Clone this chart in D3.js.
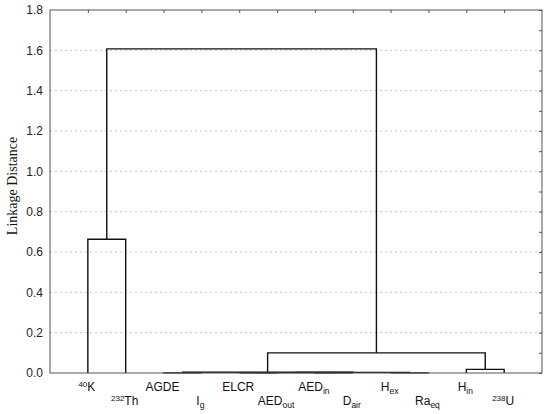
<!DOCTYPE html>
<html><head><meta charset="utf-8">
<script src="https://cdn.jsdelivr.net/npm/d3@7/dist/d3.min.js"></script>
<style>body{margin:0;background:#fff}svg{display:block}</style>
</head><body><svg id="c" width="550" height="414"></svg>
<script>
// Leaf labels (base text, superscript prefix, subscript suffix)
const leafBase = ["K","Th","AGDE","I","ELCR","AED","AED","D","H","Ra","H","U"];
const leafSup  = ["40","232","","","","","","","","","","238"];
const leafSub  = ["","","","g","","out","in","air","ex","eq","in",""];
// Linkage merges: left node, right node, linkage distance (nodes 0-11 are leaves)
const mergeLeft   = [2, 8, 4, 6, 14, 16, 12, 10, 0, 18, 20];
const mergeRight  = [3, 9, 5, 7, 15, 13, 17, 11, 1, 19, 21];
const mergeHeight = [0.0005, 0.0008, 0.001, 0.0012, 0.0018, 0.003, 0.004, 0.018, 0.663, 0.1, 1.607];
const yTicks = [0, 0.2, 0.4, 0.6, 0.8, 1.0, 1.2, 1.4, 1.6, 1.8];
const yMinorTicks = d3.range(0, 19).map(i => i / 10);

const svg = d3.select("#c");
const L = 50, R = 542, T = 10, B = 373;
const n = leafBase.length;
const x = d3.scaleLinear().domain([0, n + 1]).range([L, R]);
const y = d3.scaleLinear().domain([0, 1.8]).range([B, T]);

// grid
svg.append("g").selectAll("line").data(yTicks.filter(v => v > 0 && v < 1.8)).join("line")
  .attr("x1", L).attr("x2", R).attr("y1", d => y(d)).attr("y2", d => y(d))
  .attr("stroke", "#c4c4c4").attr("stroke-width", 1).attr("stroke-dasharray", "2,3");

// node positions
const pos = [], ht = [];
for (let i = 0; i < n; i++) { pos.push(i + 1); ht.push(0); }
const segs = [];
for (let k = 0; k < mergeLeft.length; k++) {
  const a = mergeLeft[k], b = mergeRight[k], h = mergeHeight[k];
  segs.push({xa: pos[a], ha: ht[a], xb: pos[b], hb: ht[b], h});
  pos.push((pos[a] + pos[b]) / 2); ht.push(h);
}
svg.append("g").selectAll("path").data(segs).join("path")
  .attr("d", s => `M${x(s.xa)},${y(s.ha)}V${y(s.h)}H${x(s.xb)}V${y(s.hb)}`)
  .attr("fill", "none").attr("stroke", "#111").attr("stroke-width", 1.4);

// frame
svg.append("rect").attr("x", L).attr("y", T).attr("width", R - L).attr("height", B - T)
  .attr("fill", "none").attr("stroke", "#555").attr("stroke-width", 1);

// left axis labels
const ax = svg.append("g").attr("transform", `translate(${L},0)`)
  .call(d3.axisLeft(y).tickValues(yTicks).tickFormat(d3.format(".1f")).tickSize(0).tickPadding(7));
ax.select(".domain").remove();
ax.selectAll("text").attr("font-family", "Liberation Sans, Arial, sans-serif").attr("font-size", 12).attr("fill", "#222");

// right inward ticks
const ar = svg.append("g").attr("transform", `translate(${R},0)`)
  .call(d3.axisLeft(y).tickValues(yMinorTicks).tickSize(3).tickFormat(""));
ar.select(".domain").remove();
ar.selectAll("line").attr("stroke", "#555");

// top inward ticks
const at = svg.append("g").attr("transform", `translate(0,${T})`)
  .call(d3.axisBottom(x).tickValues(d3.range(1, n + 1)).tickSize(3).tickFormat(""));
at.select(".domain").remove();
at.selectAll("line").attr("stroke", "#555");

// leaf labels
const lab = svg.append("g").attr("font-family", "Liberation Sans, Arial, sans-serif").attr("fill", "#111");
for (let i = 0; i < n; i++) {
  const t = lab.append("text").attr("x", x(i + 1) - 1).attr("y", i % 2 === 0 ? 391 : 405)
    .attr("text-anchor", "middle").attr("font-size", 12);
  if (leafSup[i]) t.append("tspan").attr("font-size", 8).attr("dy", -4).text(leafSup[i]);
  t.append("tspan").attr("dy", leafSup[i] ? 4 : 0).text(leafBase[i]);
  if (leafSub[i]) t.append("tspan").attr("font-size", 8.5).attr("dy", 3).text(leafSub[i]);
}

// y title
svg.append("text").attr("transform", "translate(17,186) rotate(-90)")
  .attr("text-anchor", "middle").attr("font-family", "Liberation Serif, Times New Roman, serif")
  .attr("font-size", 14).attr("fill", "#111").text("Linkage Distance");
</script></body></html>
